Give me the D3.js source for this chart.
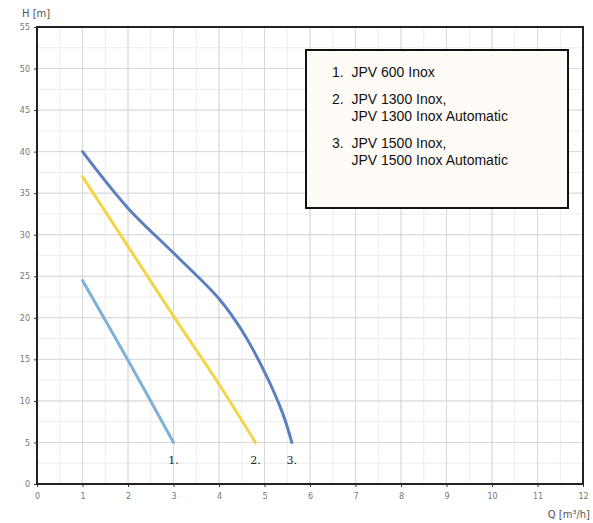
<!DOCTYPE html><html><head><script src="https://cdn.jsdelivr.net/npm/d3@7"></script>
<style>body{margin:0;background:#fff}</style></head><body><svg id="c" width="593" height="523"></svg>
<script>
const xTicks=[0,1,2,3,4,5,6,7,8,9,10,11,12];
const yTicks=[0,5,10,15,20,25,30,35,40,45,50,55];
const curve1=[[1,24.5],[2,14.9],[3,5]];
const curve2=[[1,37],[2,28.6],[3,20.2],[4,12],[4.8,5]];
const curve3=[[1,40],[2,33.2],[3,27.8],[4,22.3],[4.5,18.5],[5,13.5],[5.4,8.5],[5.6,5]];
const legendLines=["1.  JPV 600 Inox","2.  JPV 1300 Inox,","     JPV 1300 Inox Automatic","3.  JPV 1500 Inox,","     JPV 1500 Inox Automatic"];
const curveLabels=[["1.",3],["2.",4.8],["3.",5.6]];
const svg=d3.select("#c");
const x=d3.scaleLinear().domain([0,12]).range([37,583]);
const y=d3.scaleLinear().domain([0,55]).range([484,27]);
const g=svg.append("g");
g.selectAll(".mx").data(d3.range(0,12.01,0.5)).join("line").attr("x1",d=>x(d)).attr("x2",d=>x(d)).attr("y1",y(0)).attr("y2",y(55)).attr("stroke","#ececec").attr("stroke-width",1);
g.selectAll(".my").data(d3.range(0,55.01,2.5)).join("line").attr("y1",d=>y(d)).attr("y2",d=>y(d)).attr("x1",x(0)).attr("x2",x(12)).attr("stroke","#ececec");
g.selectAll(".Mx").data(xTicks).join("line").attr("x1",d=>x(d)).attr("x2",d=>x(d)).attr("y1",y(0)).attr("y2",y(55)).attr("stroke","#d8d8d8");
g.selectAll(".My").data(yTicks).join("line").attr("y1",d=>y(d)).attr("y2",d=>y(d)).attr("x1",x(0)).attr("x2",x(12)).attr("stroke","#d8d8d8");
svg.append("rect").attr("x",x(0)).attr("y",y(55)).attr("width",x(12)-x(0)).attr("height",y(0)-y(55)).attr("fill","none").attr("stroke","#222").attr("stroke-width",2);
const xa=svg.append("g").attr("transform",`translate(0,${y(0)})`).call(d3.axisBottom(x).tickValues(xTicks).tickSize(3).tickPadding(6));
const ya=svg.append("g").attr("transform",`translate(${x(0)},0)`).call(d3.axisLeft(y).tickValues(yTicks).tickSize(3).tickPadding(4));
[xa,ya].forEach(a=>{a.select(".domain").remove();a.selectAll("text").attr("fill","#777").style("font","8px 'DejaVu Sans'");a.selectAll("line").attr("stroke","#333");});
svg.append("text").attr("x",22).attr("y",17).text("H [m]").attr("fill","#555").style("font","10px 'DejaVu Sans'");
svg.append("text").attr("x",590).attr("y",518).attr("text-anchor","end").text("Q [m³/h]").attr("fill","#555").style("font","10px 'DejaVu Sans'");
const line=d3.line().x(d=>x(d[0])).y(d=>y(d[1])).curve(d3.curveCatmullRom.alpha(0.5));
[[curve1,"#7fb1d8"],[curve2,"#f4d447"],[curve3,"#5c80bf"]].forEach(([d,c])=>svg.append("path").attr("d",line(d)).attr("fill","none").attr("stroke",c).attr("stroke-width",3).attr("stroke-linecap","round"));
svg.selectAll(".cl").data(curveLabels).join("text").attr("x",d=>x(d[1])).attr("y",y(2.4)).attr("text-anchor","middle").text(d=>d[0]).style("font","11px 'DejaVu Serif'").attr("fill","#222");
svg.append("rect").attr("x",306).attr("y",50).attr("width",262).attr("height",158).attr("fill","#fffcf7").attr("stroke","#111").attr("stroke-width",2);
svg.selectAll(".lg").data(legendLines).join("text").attr("x",332).attr("y",(d,i)=>[77,104,121,148,165][i]).text(d=>d).attr("xml:space","preserve").style("white-space","pre").style("font","14px 'Liberation Sans'").attr("fill","#111");
</script></body></html>
